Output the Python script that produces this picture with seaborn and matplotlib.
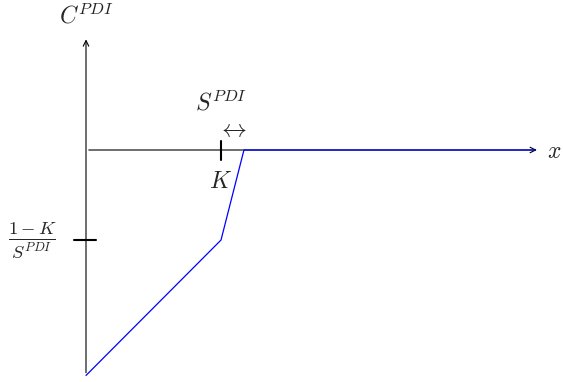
import matplotlib
matplotlib.use("Agg")
import matplotlib.pyplot as plt
import seaborn as sns
import pandas as pd

# piecewise cost curve (x in units of K)
x_vals = [0.0, 1.0, 1.17, 3.33]
c_vals = [-1.67, -0.667, 0.0, 0.0]
k_val = 1.0
frac_level = -0.667
x_axis_end = 3.36
y_axis_top = 0.84

sns.set_style("white")
plt.rcParams["mathtext.fontset"] = "cm"

fig = plt.figure(figsize=(5.63, 3.82), dpi=100)
ax = fig.add_axes([0, 0, 1, 1])
ax.set_xlim(-86 / 135, 477 / 135)
ax.set_ylim(-232 / 135, 150 / 135)
ax.axis("off")

df = pd.DataFrame({"x": x_vals, "c": c_vals})

# axes with arrows
ax.annotate("", xy=(x_axis_end, 0), xytext=(0, 0),
            arrowprops=dict(arrowstyle="->", lw=0.8, color="black"))
ax.annotate("", xy=(0, y_axis_top), xytext=(0, c_vals[0]),
            arrowprops=dict(arrowstyle="->", lw=0.8, color="black"))

sns.lineplot(data=df, x="x", y="c", color="blue", lw=0.9, ax=ax,
             estimator=None, sort=False, zorder=3)

# ticks
ax.plot([k_val, k_val], [-0.075, 0.065], color="black", lw=1.5)
ax.plot([-0.09, 0.075], [frac_level, frac_level], color="black", lw=1.5)

# labels
ax.text(0, 0.99, r"$C^{PDI}$", fontsize=17, ha="center", va="center")
ax.text(3.47, -0.005, r"$x$", fontsize=17, ha="center", va="center")
ax.text(k_val, -0.23, r"$K$", fontsize=17, ha="center", va="center")
ax.text(k_val, 0.345, r"$S^{PDI}$", fontsize=17, ha="center", va="center")
ax.text(1.085, 0.155, r"$\leftrightarrow$", fontsize=18, ha="center", va="center")
ax.text(-0.4, frac_level, r"$\frac{1-K}{S^{PDI}}$", fontsize=19,
        ha="center", va="center")

fig.savefig("out.png", dpi=100)
